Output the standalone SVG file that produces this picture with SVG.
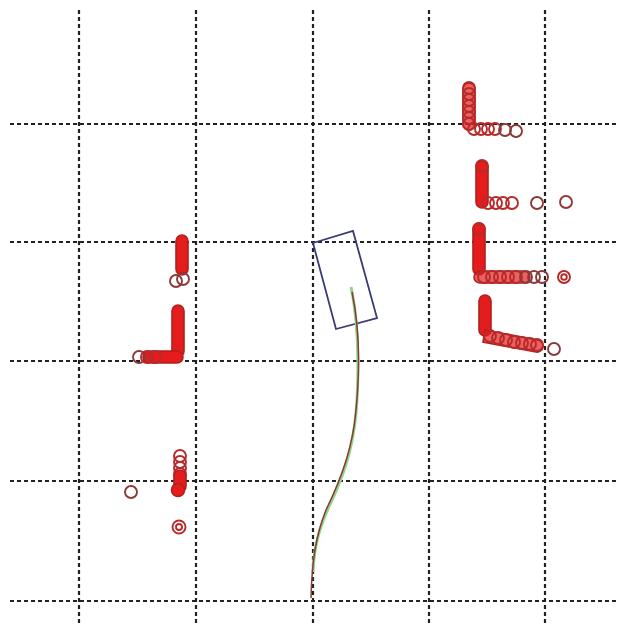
<svg xmlns="http://www.w3.org/2000/svg" width="627" height="633" viewBox="0 0 627 633">
<style>
.grid{stroke:#222222;stroke-width:2.2;stroke-dasharray:4 3;fill:none}
.c{fill:none;stroke:#b82a2a;stroke-width:1.9}
.d{fill:none;stroke:#8a3a3a;stroke-width:1.9}
.blob{fill:#e41c1c;stroke:#b02020;stroke-width:1.6}
</style>
<rect width="627" height="633" fill="#ffffff"/>
<g id="grid">
<line class="grid" x1="79" y1="10" x2="79" y2="625"/>
<line class="grid" x1="196" y1="10" x2="196" y2="625"/>
<line class="grid" x1="313" y1="10" x2="313" y2="625"/>
<line class="grid" x1="429" y1="10" x2="429" y2="625"/>
<line class="grid" x1="545" y1="10" x2="545" y2="625"/>
<line class="grid" x1="10" y1="124" x2="617" y2="124"/>
<line class="grid" x1="10" y1="242" x2="617" y2="242"/>
<line class="grid" x1="10" y1="361" x2="617" y2="361"/>
<line class="grid" x1="10" y1="481" x2="617" y2="481"/>
<line class="grid" x1="10" y1="601" x2="617" y2="601"/>
</g>
<g id="clusterA">
<rect class="blob" x="463" y="83" width="12" height="47" rx="6" fill-opacity="0.7"/>
<circle class="c" cx="469" cy="88" r="6"/><circle class="c" cx="469" cy="94" r="6"/><circle class="c" cx="469" cy="100" r="6"/><circle class="c" cx="469" cy="106" r="6"/><circle class="c" cx="469" cy="112" r="6"/><circle class="c" cx="469" cy="118" r="6"/><circle class="c" cx="469" cy="124" r="6"/>
<circle class="c" cx="474" cy="129" r="6"/><circle class="c" cx="481" cy="129" r="6"/><circle class="c" cx="488" cy="129" r="6"/><circle class="c" cx="495" cy="129" r="6"/><circle class="d" cx="505" cy="130" r="6"/><circle class="d" cx="516" cy="131" r="6"/>
</g>
<g id="clusterB">
<rect class="blob" x="476" y="161" width="12" height="47" rx="6"/>
<circle class="c" cx="482" cy="166" r="6"/>
<circle class="c" cx="488" cy="203" r="6"/><circle class="c" cx="496" cy="203" r="6"/><circle class="c" cx="503" cy="203" r="6"/><circle class="c" cx="512" cy="203" r="6"/>
<circle class="d" cx="537" cy="203" r="6"/><circle class="d" cx="566" cy="202" r="6"/>
</g>
<g id="clusterC">
<rect class="blob" x="473" y="223" width="12" height="52" rx="6"/>
<circle class="c" cx="479" cy="229" r="6"/>
<rect class="blob" x="474" y="271" width="56" height="12" rx="6" fill-opacity="0.7"/>
<circle class="c" cx="484" cy="277" r="6"/><circle class="c" cx="492" cy="277" r="6"/><circle class="c" cx="500" cy="277" r="6"/><circle class="c" cx="508" cy="277" r="6"/><circle class="c" cx="516" cy="277" r="6"/><circle class="d" cx="526" cy="277" r="6"/><circle class="d" cx="534" cy="277" r="6"/><circle class="d" cx="542" cy="277" r="6"/>
<circle class="c" cx="564" cy="277" r="6"/><circle class="c" cx="564" cy="277" r="2.8"/>
</g>
<g id="clusterD">
<rect class="blob" x="479" y="295" width="12" height="41" rx="6"/>
<path class="blob" d="M485,330 L538,340 A6,6 0 0 1 536,352 L483,342 Z" fill-opacity="0.7"/>
<circle class="c" cx="490" cy="336" r="6"/><circle class="c" cx="498" cy="338" r="6"/><circle class="c" cx="506" cy="340" r="6"/><circle class="c" cx="514" cy="342" r="6"/><circle class="c" cx="522" cy="343" r="6"/><circle class="c" cx="530" cy="344" r="6"/><circle class="c" cx="537" cy="345" r="6"/>
<circle class="d" cx="554" cy="349" r="6"/>
</g>
<g id="clusterE">
<rect class="blob" x="176" y="235" width="12" height="40" rx="6"/>
<circle class="d" cx="176" cy="281" r="6"/><circle class="d" cx="183" cy="279" r="6"/>
</g>
<g id="clusterF">
<rect class="blob" x="172" y="305" width="12" height="52" rx="6"/>
<rect class="blob" x="143" y="351" width="40" height="12" rx="6"/>
<circle class="d" cx="139" cy="357" r="6"/><circle class="c" cx="147" cy="357" r="6"/><circle class="c" cx="155" cy="357" r="6"/>
</g>
<g id="clusterG">
<circle class="c" cx="180" cy="456" r="6"/><circle class="c" cx="180" cy="462" r="6"/><circle class="c" cx="180" cy="468" r="6"/><circle class="c" cx="180" cy="474" r="6"/>
<rect class="blob" x="174" y="470" width="12" height="22" rx="6"/>
<circle class="blob" cx="178" cy="490" r="6.5"/>
<circle class="d" cx="131" cy="492" r="6"/>
<circle class="c" cx="179" cy="527" r="6.5"/><circle class="c" cx="179" cy="527" r="3"/>
</g>
<g id="vehicle">
<polygon points="313,243 353,231 377,318 336,329" fill="none" stroke="#3a3a78" stroke-width="1.8"/>
</g>
<g id="connectors">
<path d="M313,572 C314,545 320,525 332,500 C346,470 355,440 357,400 C359,360 358,320 351,287" fill="none" stroke="#8fd48f" stroke-width="3"/>
<path d="M311,598 C312,560 316,535 326,510 C343,475 353,445 356,410 C360,370 360,330 352,292" fill="none" stroke="#8a3a30" stroke-width="1.5"/>
</g>
</svg>
